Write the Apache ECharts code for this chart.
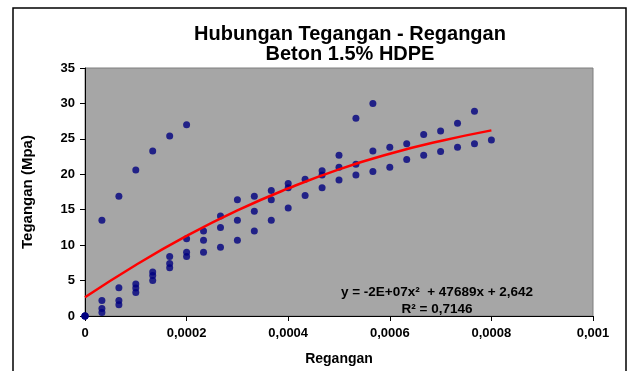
<!DOCTYPE html>
<html><head><meta charset="utf-8">
<script src="https://cdn.jsdelivr.net/npm/echarts@6/dist/echarts.min.js"></script>
<style>html,body{margin:0;padding:0;background:#fff}#c{width:630px;height:371px}</style>
</head><body><div id="c"></div>
<script>
const strainValues = [0, 0.0000333, 0.0000667, 0.0001, 0.0001333, 0.0001667, 0.0002, 0.0002333, 0.0002667, 0.0003, 0.0003333, 0.0003667, 0.0004, 0.0004333, 0.0004667, 0.0005, 0.0005333, 0.0005667, 0.0006, 0.0006333, 0.0006667, 0.0007, 0.0007333, 0.0007667, 0.0008];
const stressA = [0, 13.5, 16.9, 20.6, 23.3, 25.4, 27.0];
const stressB = [0, 2.2, 4.0, 4.5, 6.2, 8.4, 10.9, 12.0, 14.1, 16.4, 16.9, 17.7, 18.7, 19.3, 20.5, 22.7, 27.9, 30.0];
const stressC = [0, 1.05, 2.2, 3.95, 5.7, 7.4, 9.0, 10.7, 12.5, 13.5, 14.8, 16.4, 18.1, 17.0, 19.9, 21.0, 21.4, 23.3, 23.8, 24.3, 25.6, 26.1, 27.2, 28.9];
const stressD = [0, 0.5, 1.6, 3.3, 5.0, 6.8, 8.4, 9.0, 9.7, 10.7, 12.0, 13.5, 15.25, null, 18.1, 19.2, 19.9, 20.4, 21.0, 22.1, 22.7, 23.2, 23.8, 24.3, 24.85];
const trendStrain = [0, 0.0001, 0.0002, 0.0003, 0.0004, 0.0005, 0.0006, 0.0007, 0.0008];
const trendStress = [2.64, 7.2, 11.3, 14.9, 18.0, 20.7, 22.9, 24.7, 26.2];
const xTickLabels = ['0', '0,0002', '0,0004', '0,0006', '0,0008', '0,001'];
const yTickLabels = ['0', '5', '10', '15', '20', '25', '30', '35'];
const titleText = 'Hubungan Tegangan - Regangan\nBeton 1.5% HDPE';
const eqLine1 = 'y = -2E+07x\u00B2  + 47689x + 2,642';
const eqLine2 = 'R\u00B2 = 0,7146';

function pts(arr) {
  const out = [];
  arr.forEach((v, i) => { if (v !== null) out.push([strainValues[i], v]); });
  return out;
}
const scatterData = [].concat(pts(stressA), pts(stressB), pts(stressC), pts(stressD));
const trendData = trendStrain.map((x, i) => [x, trendStress[i]]);

const FONT = 'Liberation Sans, Arial, sans-serif';
const chart = echarts.init(document.getElementById('c'), null, {renderer: 'canvas'});
chart.setOption({
  backgroundColor: '#ffffff',
  animation: false,
  title: {
    text: titleText, left: 345, top: 19, textAlign: 'center',
    textStyle: {fontFamily: FONT, fontWeight: 'bold', fontSize: 20, lineHeight: 20, color: '#000'}
  },
  grid: {left: 85, right: 37, top: 68, bottom: 48, show: true, backgroundColor: '#A6A6A6', borderColor: '#7f7f7f', borderWidth: 1},
  xAxis: {
    type: 'value', min: 0, max: 0.001, interval: 0.0002,
    name: 'Regangan', nameLocation: 'middle', nameGap: 36,
    nameTextStyle: {fontFamily: FONT, fontWeight: 'bold', fontSize: 14, color: '#000'},
    axisLine: {show: true, onZero: false, lineStyle: {color: '#000', width: 1}},
    axisTick: {show: true, length: 5, lineStyle: {color: '#000'}},
    splitLine: {show: false},
    axisLabel: {margin: 11, fontFamily: FONT, fontWeight: 'bold', fontSize: 13, color: '#000',
      formatter: v => xTickLabels[Math.round(v / 0.0002)]}
  },
  yAxis: {
    type: 'value', min: 0, max: 35, interval: 5,
    name: 'Tegangan (Mpa)', nameLocation: 'middle', nameGap: 50, nameRotate: 90,
    nameTextStyle: {fontFamily: FONT, fontWeight: 'bold', fontSize: 15, color: '#000'},
    axisLine: {show: true, onZero: false, lineStyle: {color: '#000', width: 1}},
    axisTick: {show: true, length: 5, lineStyle: {color: '#000'}},
    splitLine: {show: false},
    axisLabel: {margin: 10, fontFamily: FONT, fontWeight: 'bold', fontSize: 13, color: '#000',
      formatter: v => yTickLabels[Math.round(v / 5)]}
  },
  series: [
    {type: 'scatter', data: scatterData, symbol: 'circle', symbolSize: 7,
      itemStyle: {color: '#000080'}, z: 2},
    {type: 'line', data: trendData, smooth: true, showSymbol: false, symbol: 'none',
      lineStyle: {color: '#FF0000', width: 2.5}, z: 3}
  ],
  graphic: [
    {type: 'rect', shape: {x: 13, y: 8, width: 613, height: 400}, style: {fill: 'none', stroke: '#000', lineWidth: 1.5}, z: 100},
    {type: 'text', x: 437, y: 292, style: {text: eqLine1, textAlign: 'center', textVerticalAlign: 'middle', font: 'bold 13.5px ' + FONT, fill: '#000'}, z: 100},
    {type: 'text', x: 437, y: 309, style: {text: eqLine2, textAlign: 'center', textVerticalAlign: 'middle', font: 'bold 13.5px ' + FONT, fill: '#000'}, z: 100}
  ]
});
</script></body></html>
